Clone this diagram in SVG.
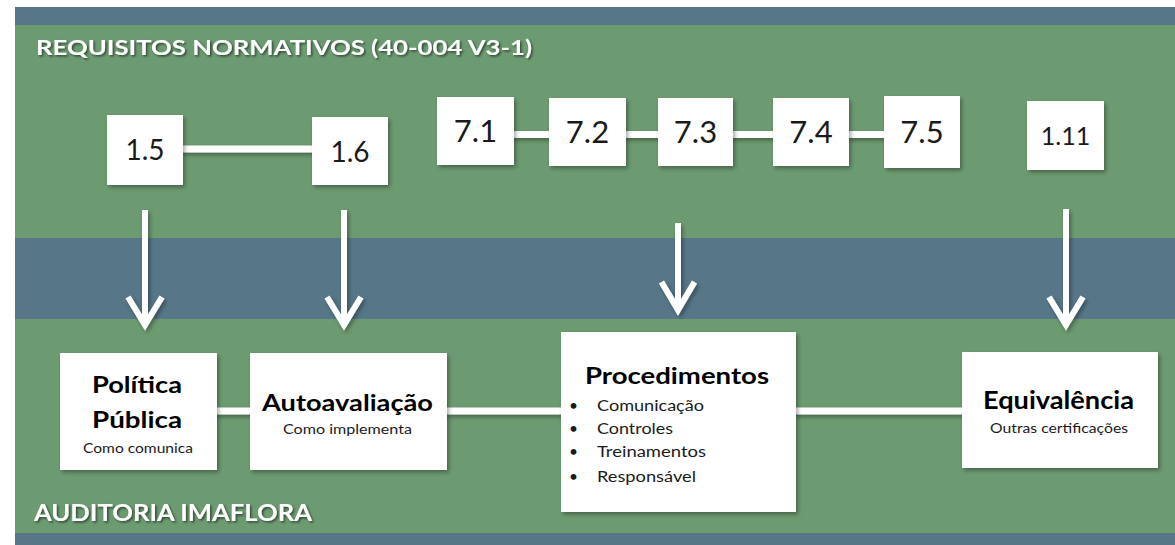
<svg xmlns="http://www.w3.org/2000/svg" width="1175" height="545" viewBox="0 0 1175 545">
<style>
.box{fill:#ffffff;filter:url(#sh)}
.num{font-family:Lato,"Liberation Sans",sans-serif;fill:#1a1a1a;text-anchor:middle}
.hd{font-family:Lato,"Liberation Sans",sans-serif;font-weight:bold;fill:#ffffff;filter:url(#tsh)}
.tt{font-family:Lato,"Liberation Sans",sans-serif;font-weight:bold;fill:#000000;text-anchor:middle}
.st{font-family:Lato,"Liberation Sans",sans-serif;fill:#1a1a1a;text-anchor:middle;font-size:13px}
.li{font-family:Lato,"Liberation Sans",sans-serif;fill:#1a1a1a;font-size:15.5px}
.ln{stroke:#ffffff;stroke-width:7;fill:none}
.ar{stroke:#ffffff;stroke-width:6;fill:none;stroke-linejoin:miter;stroke-miterlimit:10}
</style>
<defs>
<filter id="sh" x="-20%" y="-20%" width="140%" height="140%">
<feDropShadow dx="2" dy="2.5" stdDeviation="2" flood-color="#000" flood-opacity="0.35"/>
</filter>
<filter id="tsh" x="-10%" y="-30%" width="120%" height="160%">
<feDropShadow dx="1.5" dy="1.5" stdDeviation="1.2" flood-color="#000" flood-opacity="0.55"/>
</filter>
</defs>
<rect x="0" y="0" width="1175" height="545" fill="#ffffff"/>
<g id="bands">
<rect x="15" y="7" width="1160" height="18" fill="#577789"/>
<rect x="15" y="25" width="1160" height="213" fill="#6d9b71"/>
<rect x="15" y="238" width="1160" height="81" fill="#577789"/>
<rect x="15" y="319" width="1160" height="214" fill="#6d9b71"/>
<rect x="15" y="533" width="1160" height="12" fill="#577789"/>
</g>
<g id="headers">
<text class="hd" x="36" y="55" font-size="21" textLength="496" lengthAdjust="spacingAndGlyphs">REQUISITOS NORMATIVOS (40-004 V3-1)</text>
<text class="hd" x="34" y="521" font-size="23" textLength="278" lengthAdjust="spacingAndGlyphs">AUDITORIA IMAFLORA</text>
</g>
<g id="connectors" filter="url(#sh)">
<line class="ln" x1="180" y1="149" x2="315" y2="149"/>
<line class="ln" x1="510" y1="134.5" x2="552" y2="134.5"/>
<line class="ln" x1="622" y1="134.5" x2="661" y2="134.5"/>
<line class="ln" x1="730" y1="134.5" x2="776" y2="134.5"/>
<line class="ln" x1="846" y1="134.5" x2="887" y2="134.5"/>
<line class="ln" x1="214" y1="411" x2="253" y2="411"/>
<line class="ln" x1="444" y1="411" x2="564" y2="411"/>
<line class="ln" x1="793" y1="411" x2="965" y2="411"/>
<path class="ar" d="M145,210 V324 M128,297 L145,325 L162,297"/>
<path class="ar" d="M344,210 V324 M327,297 L344,325 L361,297"/>
<path class="ar" d="M678,223 V309 M661.5,282 L678,310 L694.5,282"/>
<path class="ar" d="M1066,209 V324 M1049,297 L1066,325 L1083,297"/>
</g>
<g id="n15"><rect class="box" x="107" y="115" width="76" height="70"/><text class="num" x="145" y="160" font-size="28">1.5</text></g>
<g id="n16"><rect class="box" x="312" y="117" width="76" height="68"/><text class="num" x="350" y="162" font-size="28">1.6</text></g>
<g id="n71"><rect class="box" x="437" y="97" width="77" height="68"/><text class="num" x="475.5" y="142" font-size="31">7.1</text></g>
<g id="n72"><rect class="box" x="549" y="98" width="77" height="68"/><text class="num" x="587.5" y="143" font-size="31">7.2</text></g>
<g id="n73"><rect class="box" x="658" y="98" width="75" height="68"/><text class="num" x="695.5" y="143" font-size="31">7.3</text></g>
<g id="n74"><rect class="box" x="773" y="98" width="76" height="68"/><text class="num" x="811" y="143" font-size="31">7.4</text></g>
<g id="n75"><rect class="box" x="884" y="96" width="76" height="72"/><text class="num" x="922" y="143" font-size="31">7.5</text></g>
<g id="n111"><rect class="box" x="1027" y="101" width="77" height="69"/><text class="num" x="1065.5" y="145" font-size="25">1.11</text></g>
<g id="politica">
<rect class="box" x="60" y="353" width="157" height="117"/>
<text class="tt" x="137" y="393" font-size="22" textLength="90" lengthAdjust="spacingAndGlyphs">Política</text>
<text class="tt" x="137" y="428" font-size="22" textLength="90" lengthAdjust="spacingAndGlyphs">Pública</text>
<text class="st" x="138" y="453" textLength="110" lengthAdjust="spacingAndGlyphs">Como comunica</text>
</g>
<g id="autoavaliacao">
<rect class="box" x="250" y="353" width="197" height="117"/>
<text class="tt" x="347.5" y="411" font-size="23" textLength="171" lengthAdjust="spacingAndGlyphs">Autoavaliação</text>
<text class="st" x="347.5" y="434" textLength="129" lengthAdjust="spacingAndGlyphs">Como implementa</text>
</g>
<g id="procedimentos">
<rect class="box" x="561" y="332" width="235" height="180"/>
<text class="tt" x="677" y="384" font-size="23" textLength="184" lengthAdjust="spacingAndGlyphs">Procedimentos</text>
<text class="li" x="569" y="411">•</text>
<text class="li" x="569" y="434">•</text>
<text class="li" x="569" y="457">•</text>
<text class="li" x="569" y="482">•</text>
<text class="li" x="597" y="411" textLength="107" lengthAdjust="spacingAndGlyphs">Comunicação</text>
<text class="li" x="597" y="434" textLength="76" lengthAdjust="spacingAndGlyphs">Controles</text>
<text class="li" x="597" y="457" textLength="109" lengthAdjust="spacingAndGlyphs">Treinamentos</text>
<text class="li" x="597" y="482" textLength="99" lengthAdjust="spacingAndGlyphs">Responsável</text>
</g>
<g id="equivalencia">
<rect class="box" x="962" y="352" width="196" height="116"/>
<text class="tt" x="1058.5" y="409" font-size="24" textLength="151" lengthAdjust="spacingAndGlyphs">Equivalência</text>
<text class="st" x="1059" y="433" textLength="138" lengthAdjust="spacingAndGlyphs">Outras certificações</text>
</g>
</svg>
